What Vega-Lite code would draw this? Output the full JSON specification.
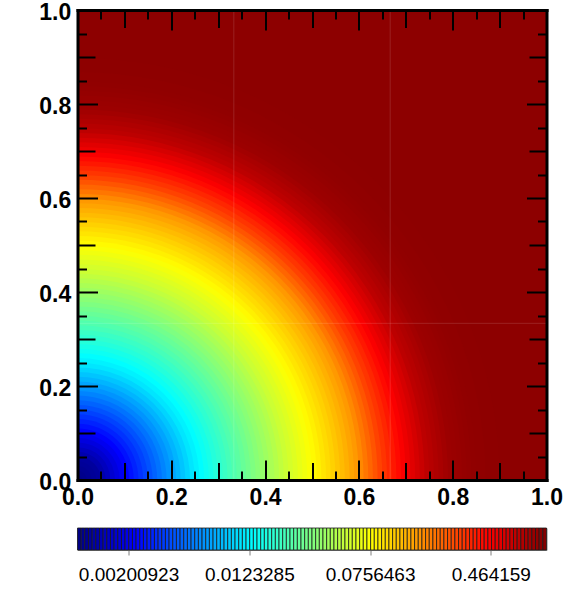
{
  "$schema": "https://vega.github.io/schema/vega-lite/v6.json",
  "padding": {"left": 38.5, "top": 1, "right": 5, "bottom": 5},
  "background": "white",
  "spacing": 48,
  "bounds": "flush",
  "config": {
    "view": {"stroke": null},
    "axis": {"grid": false, "labelColor": "black", "tickColor": "black", "domainColor": "black", "labelFont": "Liberation Sans"}
  },
  "resolve": {"scale": {"color": "independent"}},
  "vconcat": [
    {
      "width": 469,
      "height": 470,
      "layer": [
        {
          "data": {"values": [
            {"r":1.5,"v":0.97},{"r":0.90,"v":0.964},{"r":0.87,"v":0.952},{"r":0.85,"v":0.944},{"r":0.84,"v":0.931},{"r":0.83,"v":0.918},{"r":0.82,"v":0.905},{"r":0.81,"v":0.892},
            {"r":0.80,"v":0.880},{"r":0.79,"v":0.841},{"r":0.78,"v":0.804},{"r":0.77,"v":0.768},{"r":0.76,"v":0.734},{"r":0.75,"v":0.702},
            {"r":0.74,"v":0.645},{"r":0.73,"v":0.593},{"r":0.72,"v":0.545},{"r":0.71,"v":0.501},{"r":0.70,"v":0.460},{"r":0.69,"v":0.417},
            {"r":0.68,"v":0.378},{"r":0.67,"v":0.342},{"r":0.66,"v":0.310},{"r":0.65,"v":0.281},{"r":0.64,"v":0.249},{"r":0.63,"v":0.221},
            {"r":0.62,"v":0.196},{"r":0.61,"v":0.174},{"r":0.60,"v":0.154},{"r":0.59,"v":0.143},{"r":0.58,"v":0.132},{"r":0.57,"v":0.122},
            {"r":0.56,"v":0.113},{"r":0.55,"v":0.105},{"r":0.54,"v":0.0976},{"r":0.53,"v":0.0910},{"r":0.52,"v":0.0848},{"r":0.51,"v":0.0790},
            {"r":0.50,"v":0.0737},{"r":0.49,"v":0.0691},{"r":0.48,"v":0.0649},{"r":0.47,"v":0.0609},{"r":0.46,"v":0.0571},{"r":0.45,"v":0.0536},
            {"r":0.44,"v":0.0496},{"r":0.43,"v":0.0459},{"r":0.42,"v":0.0425},{"r":0.41,"v":0.0393},{"r":0.40,"v":0.0364},{"r":0.39,"v":0.0337},
            {"r":0.38,"v":0.0312},{"r":0.37,"v":0.0289},{"r":0.36,"v":0.0267},{"r":0.35,"v":0.0247},{"r":0.34,"v":0.0229},{"r":0.33,"v":0.0212},
            {"r":0.32,"v":0.0196},{"r":0.31,"v":0.0181},{"r":0.30,"v":0.0168},{"r":0.29,"v":0.0154},{"r":0.28,"v":0.0142},{"r":0.27,"v":0.0130},
            {"r":0.26,"v":0.0120},{"r":0.25,"v":0.0110},{"r":0.24,"v":0.00982},{"r":0.23,"v":0.00877},{"r":0.22,"v":0.00784},{"r":0.21,"v":0.00700},
            {"r":0.20,"v":0.00626},{"r":0.19,"v":0.00559},{"r":0.18,"v":0.00499},{"r":0.17,"v":0.00446},{"r":0.16,"v":0.00398},{"r":0.15,"v":0.00356},
            {"r":0.14,"v":0.00318},{"r":0.13,"v":0.00284},{"r":0.12,"v":0.00254},{"r":0.11,"v":0.00227},{"r":0.10,"v":0.00203},{"r":0.09,"v":0.00181},
            {"r":0.08,"v":0.00162},{"r":0.07,"v":0.00144},{"r":0.06,"v":0.00129},{"r":0.05,"v":0.00115},{"r":0.04,"v":0.00111},{"r":0.03,"v":0.00106},
            {"r":0.02,"v":0.00102},{"r":0.01,"v":0.000974}
          ]},
          "mark": {"type": "circle", "clip": true, "opacity": 1, "strokeWidth": 0},
          "encoding": {
            "x": {"datum": 0, "type": "quantitative", "scale": {"domain": [0, 1], "nice": false, "zero": false},
              "axis": {"orient": "bottom", "title": null, "zindex": 1,
                "values": [0,0.05,0.1,0.15,0.2,0.25,0.3,0.35,0.4,0.45,0.5,0.55,0.6,0.65,0.7,0.75,0.8,0.85,0.9,0.95,1],
                "labelExpr": "abs(datum.value*5-round(datum.value*5))<0.001 ? format(datum.value,'.1f') : ''",
                "tickSize": {"condition": [{"test": "abs(datum.value*5-round(datum.value*5))<0.001", "value": -20}, {"test": "abs(datum.value*10-round(datum.value*10))<0.001", "value": -17.5}], "value": -9},
                "tickWidth": 2, "domainWidth": 3, "domainCap": "square",
                "labelFontSize": 23, "labelFontWeight": "bold", "labelPadding": 26.5, "labelFlush": false, "labelOverlap": false}},
            "y": {"datum": 0, "type": "quantitative", "scale": {"domain": [0, 1], "nice": false, "zero": false},
              "axis": {"orient": "left", "title": null, "zindex": 1,
                "values": [0,0.05,0.1,0.15,0.2,0.25,0.3,0.35,0.4,0.45,0.5,0.55,0.6,0.65,0.7,0.75,0.8,0.85,0.9,0.95,1],
                "labelExpr": "abs(datum.value*5-round(datum.value*5))<0.001 ? format(datum.value,'.1f') : ''",
                "tickSize": {"condition": [{"test": "abs(datum.value*5-round(datum.value*5))<0.001", "value": -20}, {"test": "abs(datum.value*10-round(datum.value*10))<0.001", "value": -17.5}], "value": -9},
                "tickWidth": 2, "domainWidth": 3, "domainCap": "square",
                "labelFontSize": 23, "labelFontWeight": "bold", "labelPadding": 26.8, "labelOffset": 2, "labelFlush": false, "labelOverlap": false}},
            "size": {"field": "r", "type": "quantitative", "scale": {"type": "pow", "exponent": 2, "domain": [0, 1.5], "range": [0, 1979649]}, "legend": null},
            "color": {"field": "v", "type": "quantitative",
              "scale": {"type": "log", "domain": [0.000933, 0.002252, 0.01311, 0.07627, 0.4441, 1.0715],
                "range": ["#00007F", "#0000FF", "#00FFFF", "#FFFF00", "#FF0000", "#7F0000"], "interpolate": "rgb"},
              "legend": null}
          }
        },
        {
          "data": {"values": [{"xl": 0.3333}, {"xl": 0.6667}]},
          "mark": {"type": "rule", "color": "white", "opacity": 0.13, "strokeWidth": 1},
          "encoding": {
            "x": {"field": "xl", "type": "quantitative", "scale": {"domain": [0, 1], "nice": false, "zero": false},
              "axis": {"orient": "top", "title": null, "zindex": 1, "labels": false,
                "values": [0,0.05,0.1,0.15,0.2,0.25,0.3,0.35,0.4,0.45,0.5,0.55,0.6,0.65,0.7,0.75,0.8,0.85,0.9,0.95,1],
                "tickSize": {"condition": [{"test": "abs(datum.value*5-round(datum.value*5))<0.001", "value": -20}, {"test": "abs(datum.value*10-round(datum.value*10))<0.001", "value": -17.5}], "value": -9},
                "tickWidth": 2, "domainWidth": 3, "domainCap": "square"}}
          }
        },
        {
          "data": {"values": [{"yl": 0.3333}]},
          "mark": {"type": "rule", "color": "white", "opacity": 0.13, "strokeWidth": 1},
          "encoding": {
            "y": {"field": "yl", "type": "quantitative", "scale": {"domain": [0, 1], "nice": false, "zero": false},
              "axis": {"orient": "right", "title": null, "zindex": 1, "labels": false,
                "values": [0,0.05,0.1,0.15,0.2,0.25,0.3,0.35,0.4,0.45,0.5,0.55,0.6,0.65,0.7,0.75,0.8,0.85,0.9,0.95,1],
                "tickSize": {"condition": [{"test": "abs(datum.value*5-round(datum.value*5))<0.001", "value": -20}, {"test": "abs(datum.value*10-round(datum.value*10))<0.001", "value": -17.5}], "value": -9},
                "tickWidth": 2, "domainWidth": 3, "domainCap": "square"}}
          }
        }
      ],
      "resolve": {"axis": {"x": "independent", "y": "independent"}}
    },
    {
      "width": 469,
      "height": 22,
      "view": {"stroke": "#808080", "strokeWidth": 1},
      "layer": [
        {
          "data": {"values": [
            {"k":0},{"k":1},{"k":2},{"k":3},{"k":4},{"k":5},{"k":6},{"k":7},{"k":8},{"k":9},{"k":10},{"k":11},{"k":12},{"k":13},{"k":14},{"k":15},
            {"k":16},{"k":17},{"k":18},{"k":19},{"k":20},{"k":21},{"k":22},{"k":23},{"k":24},{"k":25},{"k":26},{"k":27},{"k":28},{"k":29},{"k":30},{"k":31},
            {"k":32},{"k":33},{"k":34},{"k":35},{"k":36},{"k":37},{"k":38},{"k":39},{"k":40},{"k":41},{"k":42},{"k":43},{"k":44},{"k":45},{"k":46},{"k":47},
            {"k":48},{"k":49},{"k":50},{"k":51},{"k":52},{"k":53},{"k":54},{"k":55},{"k":56},{"k":57},{"k":58},{"k":59},{"k":60},{"k":61},{"k":62},{"k":63},
            {"k":64},{"k":65},{"k":66},{"k":67},{"k":68},{"k":69},{"k":70},{"k":71},{"k":72},{"k":73},{"k":74},{"k":75},{"k":76},{"k":77},{"k":78},{"k":79},
            {"k":80},{"k":81},{"k":82},{"k":83},{"k":84},{"k":85},{"k":86},{"k":87},{"k":88},{"k":89},{"k":90},{"k":91},{"k":92},{"k":93},{"k":94},{"k":95},
            {"k":96},{"k":97},{"k":98},{"k":99},{"k":100},{"k":101},{"k":102},{"k":103},{"k":104},{"k":105},{"k":106},{"k":107},{"k":108},{"k":109},{"k":110},{"k":111},
            {"k":112},{"k":113},{"k":114},{"k":115},{"k":116},{"k":117},{"k":118},{"k":119},{"k":120},{"k":121},{"k":122},{"k":123},{"k":124},{"k":125},{"k":126},{"k":127}
          ]},
          "mark": {"type": "rect", "stroke": "#1a1a1a", "strokeWidth": 0.8},
          "encoding": {
            "x": {"field": "k", "type": "ordinal", "scale": {"paddingInner": 0, "paddingOuter": 0}, "axis": null},
            "color": {"field": "k", "type": "quantitative",
              "scale": {"domain": [-0.5, 15.5, 47.5, 79.5, 111.5, 127.5], "range": ["#00007F", "#0000FF", "#00FFFF", "#FFFF00", "#FF0000", "#7F0000"], "interpolate": "rgb"},
              "legend": null}
          }
        },
        {
          "data": {"values": [{"tick": 0.00200923}, {"tick": 0.0123285}, {"tick": 0.0756463}, {"tick": 0.464159}]},
          "mark": {"type": "rule", "opacity": 0},
          "encoding": {
            "x": {"field": "tick", "type": "quantitative", "scale": {"type": "log", "domain": [0.000933, 1.0715], "nice": false},
              "axis": {"orient": "bottom", "title": null, "values": [0.00200923, 0.0123285, 0.0756463, 0.464159], "format": ".6~g",
                "tickSize": 5, "tickColor": "#808080", "tickWidth": 1, "domain": false,
                "labelFontSize": 19, "labelFontWeight": "normal", "labelPadding": 10, "labelFlush": false, "labelOverlap": false}}
          }
        }
      ],
      "resolve": {"scale": {"x": "independent"}}
    }
  ]
}
